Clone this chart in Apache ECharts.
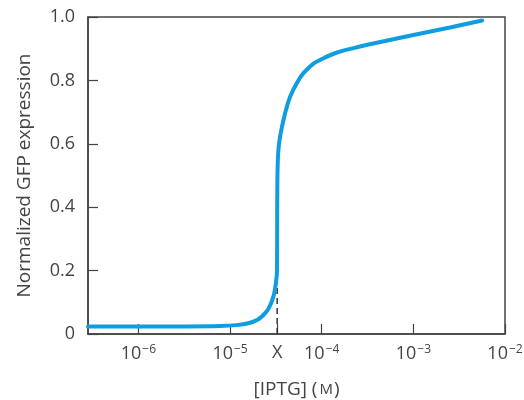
<!DOCTYPE html>
<html>
<head>
<meta charset="utf-8">
<script src="https://cdn.jsdelivr.net/npm/echarts@6/dist/echarts.min.js"></script>
<style>html,body{margin:0;padding:0;background:#fff}#c{width:524px;height:400px}</style>
</head>
<body>
<div id="c"></div>
<script>
// log10 of [IPTG] (M)
var logIPTG = [-6.55, -5.5, -5.11, -4.93, -4.80, -4.70, -4.636, -4.58, -4.527, -4.50, -4.488, -4.486, -4.484, -4.475, -4.454, -4.399, -4.344, -4.271, -4.199, -4.090, -3.980, -3.834, -3.652, -3.489, -3.0, -2.6, -2.249];
var gfp = [0.024, 0.024, 0.025, 0.028, 0.034, 0.045, 0.060, 0.080, 0.118, 0.160, 0.200, 0.350, 0.480, 0.570, 0.623, 0.697, 0.749, 0.792, 0.823, 0.853, 0.870, 0.888, 0.902, 0.913, 0.943, 0.967, 0.989];
var xMarkLog = -4.486;
var xMarkTop = 0.2;
var xTickValues = [-6, -5, xMarkLog, -4, -3, -2];
var xTickLabels = ['{b|10}{s|\u22126}', '{b|10}{s|\u22125}', '{b|X}', '{b|10}{s|\u22124}', '{b|10}{s|\u22123}', '{b|10}{s|\u22122}'];
var yTicks = [0, 0.2, 0.4, 0.6, 0.8, 1.0];

var font = '"Open Sans", "Noto Sans", sans-serif';
var chart = echarts.init(document.getElementById('c'));
chart.setOption({
  animation: false,
  grid: {left: 88, right: 19, top: 17, bottom: 66, outerBoundsMode: 'none', containLabel: false, show: true, borderColor: '#444', borderWidth: 1.5, backgroundColor: 'transparent'},
  xAxis: {
    type: 'value', min: -6.55, max: -2,
    name: '{b|[IPTG] (}{sc|M}{b|)}',
    nameLocation: 'middle', nameGap: 46,
    nameTextStyle: {rich: {b: {fontFamily: font, fontSize: 19, color: '#444'}, sc: {fontFamily: font, fontSize: 15, color: '#444', padding: [0, 1, 0, 2]}}},
    axisLine: {show: true, lineStyle: {color: '#444', width: 1.5}},
    axisTick: {show: true, inside: true, length: 10, customValues: xTickValues, lineStyle: {color: '#444', width: 1.2}},
    axisLabel: {
      customValues: xTickValues, margin: 10,
      formatter: function (v) { var i = xTickValues.indexOf(v); return i >= 0 ? xTickLabels[i] : ''; },
      rich: {
        b: {fontFamily: font, fontSize: 18, color: '#444'},
        s: {fontFamily: font, fontSize: 12, color: '#444', verticalAlign: 'top', padding: [0, 0, 8, 1]}
      }
    },
    splitLine: {show: false}
  },
  yAxis: {
    type: 'value', min: 0, max: 1, interval: 0.2,
    name: 'Normalized GFP expression', nameLocation: 'middle', nameGap: 54,
    nameTextStyle: {fontFamily: font, fontSize: 19, color: '#444'},
    axisLine: {show: true, lineStyle: {color: '#444', width: 1.5}},
    axisTick: {show: true, inside: true, length: 10, lineStyle: {color: '#444', width: 1.2}},
    axisLabel: {margin: 13, fontFamily: font, fontSize: 18, color: '#444',
      formatter: function (v) { return v === 0 ? '0' : v.toFixed(1); }},
    splitLine: {show: false}
  },
  series: [
    {
      type: 'line', data: [[xMarkLog, 0], [xMarkLog, xMarkTop]], symbol: 'none',
      lineStyle: {color: '#333', width: 1.5, type: [6, 4]}, z: 1
    },
    {
      type: 'line', data: logIPTG.map(function (x, i) { return [x, gfp[i]]; }),
      symbol: 'none', smooth: 0.25,
      lineStyle: {color: '#0e9de0', width: 4, cap: 'round'}, z: 3
    }
  ]
});
</script>
</body>
</html>
